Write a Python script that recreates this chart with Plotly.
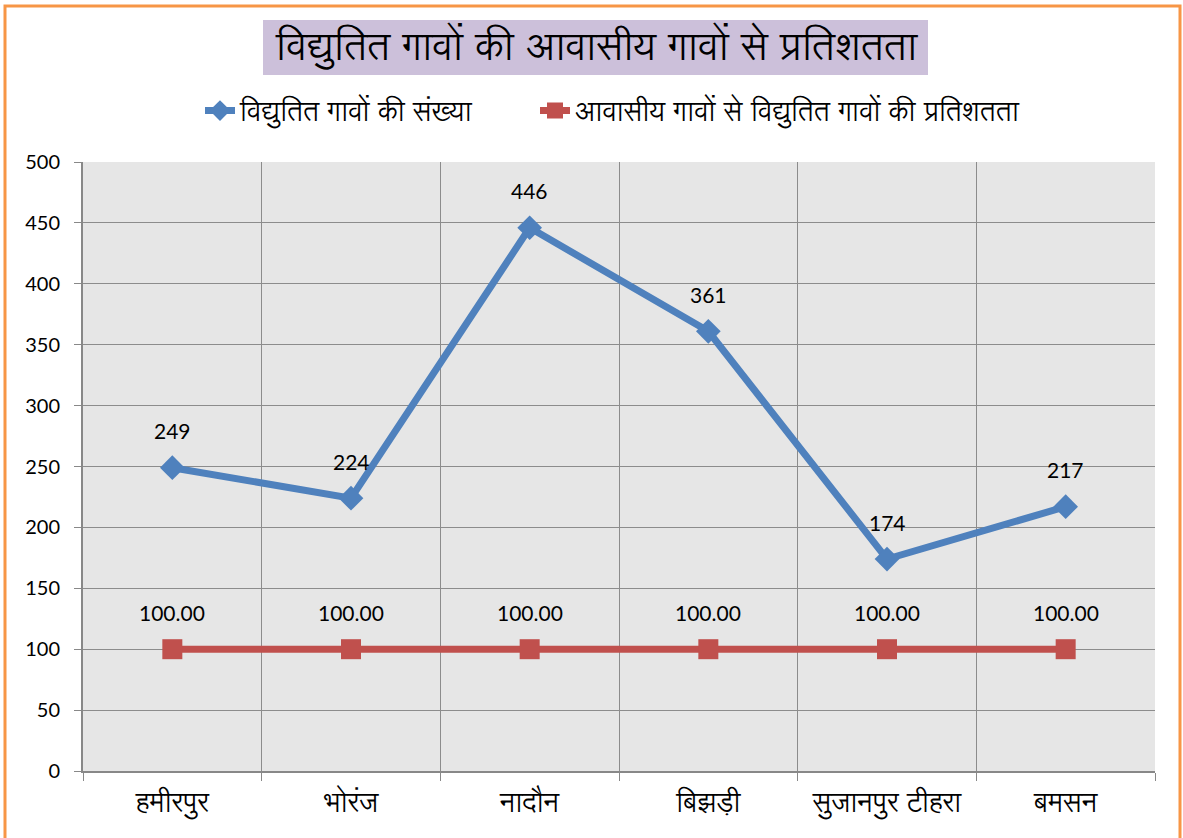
import plotly.graph_objects as go

categories = ["हमीरपुर", "भोरंज", "नादौन", "बिझड़ी", "सुजानपुर टीहरा", "बमसन"]
electrified_villages = [249, 224, 446, 361, 174, 217]
percent_electrified = [100.00, 100.00, 100.00, 100.00, 100.00, 100.00]
y_ticks = list(range(0, 501, 50))

title_text = "विद्युतित गावों की आवासीय गावों से प्रतिशतता"
series1_name = "विद्युतित गावों की संख्या"
series2_name = "आवासीय गावों से विद्युतित गावों की प्रतिशतता"

BLUE = "#4F81BD"
RED = "#C0504D"
NUM_FONT = "Lato, 'Liberation Sans', sans-serif"
HI_FONT = "'Lohit Devanagari', 'Noto Sans Devanagari', 'Noto Sans', sans-serif"

W, H = 1183, 838
# plot area in pixels
L, R, T, B = 83, 1155, 162, 771
pw, ph = R - L, B - T

def px(x):
    return (x - L) / pw

def py(y):
    return (B - y) / ph

fig = go.Figure()
fig.add_trace(go.Scatter(
    x=categories, y=electrified_villages, name=series1_name,
    mode="lines+markers", legend="legend",
    line=dict(color=BLUE, width=7),
    marker=dict(symbol="diamond", size=19, color=BLUE),
))
fig.add_trace(go.Scatter(
    x=categories, y=percent_electrified, name=series2_name,
    mode="lines+markers", legend="legend2",
    line=dict(color=RED, width=7),
    marker=dict(symbol="square", size=20, color=RED),
))

for c, v in zip(categories, electrified_villages):
    fig.add_annotation(x=c, y=v, text=str(v), showarrow=False, yshift=37,
                       font=dict(family=NUM_FONT, size=21, color="#000000"))
for c, v in zip(categories, percent_electrified):
    fig.add_annotation(x=c, y=v, text=f"{v:.2f}", showarrow=False, yshift=37,
                       font=dict(family=NUM_FONT, size=21, color="#000000"))

# title box
fig.add_shape(type="rect", xref="paper", yref="paper",
              x0=px(263), x1=px(928), y0=py(75), y1=py(20),
              fillcolor="#CCC0DA", line=dict(width=0), layer="below")
fig.add_annotation(xref="paper", yref="paper", x=px(596), y=py(48),
                   xanchor="center", yanchor="middle",
                   text=title_text, showarrow=False,
                   font=dict(family=HI_FONT, size=39, color="#000000"))

# orange outer border
fig.add_shape(type="rect", xref="paper", yref="paper",
              x0=px(5), x1=px(1180), y0=py(850), y1=py(6),
              line=dict(color="#F79646", width=3), fillcolor="rgba(0,0,0,0)")

legend_common = dict(orientation="h", xanchor="left", yanchor="middle", y=py(111),
                     font=dict(family=HI_FONT, size=27, color="#000000"),
                     bgcolor="rgba(0,0,0,0)", borderwidth=0)

fig.update_layout(
    width=W, height=H,
    margin=dict(l=L, r=W - R, t=T, b=H - B, pad=0),
    paper_bgcolor="#FFFFFF",
    plot_bgcolor="#E6E6E6",
    showlegend=True,
    legend=dict(x=px(200), **legend_common),
    legend2=dict(x=px(535), **legend_common),
    xaxis=dict(
        type="category", range=[-0.5, 5.5],
        tickson="boundaries", ticks="outside", ticklen=8, tickcolor="#888888",
        showgrid=True, gridcolor="#8C8C8C", gridwidth=1,
        showline=True, linecolor="#888888", linewidth=2,
        tickfont=dict(family=HI_FONT, size=27, color="#000000"),
        ticklabelstandoff=7,
        fixedrange=True,
    ),
    yaxis=dict(
        range=[0, 500], tickvals=y_ticks,
        ticks="outside", ticklen=7, tickcolor="#888888",
        showgrid=True, gridcolor="#8C8C8C", gridwidth=1,
        showline=True, linecolor="#888888", linewidth=2,
        tickfont=dict(family=NUM_FONT, size=20, color="#000000"),
        ticklabelstandoff=10,
        zeroline=False,
    ),
)

fig.write_html("out.html", config={"displayModeBar": False},
               post_script="document.body.style.margin='0';")
